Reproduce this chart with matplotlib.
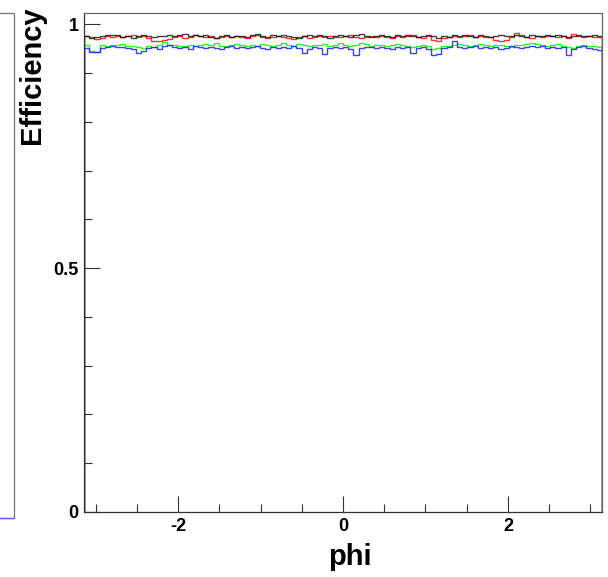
import numpy as np
import matplotlib
matplotlib.use('Agg')
import matplotlib.pyplot as plt
from matplotlib.ticker import MultipleLocator, FuncFormatter
from matplotlib.patches import Rectangle
from matplotlib.lines import Line2D

# efficiency vs phi, 100 bins from -pi to pi
n_bins = 100
eff_black = [0.976, 0.972, 0.973, 0.975, 0.977, 0.977, 0.977, 0.973, 0.975, 0.972,
             0.976, 0.977, 0.976, 0.973, 0.975, 0.976, 0.978, 0.975, 0.977, 0.979,
             0.975, 0.977, 0.976, 0.978, 0.974, 0.972, 0.975, 0.977, 0.974, 0.976,
             0.975, 0.973, 0.977, 0.979, 0.976, 0.974, 0.977, 0.975, 0.978, 0.976,
             0.974, 0.972, 0.975, 0.977, 0.976, 0.978, 0.975, 0.972, 0.975, 0.977,
             0.976, 0.974, 0.977, 0.979, 0.976, 0.973, 0.975, 0.977, 0.976, 0.974,
             0.977, 0.975, 0.978, 0.976, 0.973, 0.976, 0.977, 0.975, 0.972, 0.976,
             0.974, 0.977, 0.975, 0.978, 0.976, 0.974, 0.977, 0.975, 0.973, 0.976,
             0.977, 0.975, 0.976, 0.978, 0.976, 0.974, 0.977, 0.975, 0.976, 0.977,
             0.975, 0.977, 0.976, 0.973, 0.975, 0.977, 0.976, 0.975, 0.977, 0.976]
eff_red = [0.976, 0.974, 0.970, 0.972, 0.975, 0.974, 0.976, 0.973, 0.975, 0.977,
           0.973, 0.975, 0.972, 0.966, 0.965, 0.967, 0.970, 0.973, 0.975, 0.971,
           0.974, 0.977, 0.975, 0.973, 0.975, 0.971, 0.973, 0.975, 0.973, 0.976,
           0.974, 0.971, 0.975, 0.977, 0.974, 0.972, 0.974, 0.976, 0.974, 0.972,
           0.969, 0.973, 0.975, 0.972, 0.974, 0.976, 0.973, 0.975, 0.974, 0.973,
           0.975, 0.977, 0.974, 0.971, 0.973, 0.975, 0.973, 0.976, 0.974, 0.972,
           0.975, 0.973, 0.975, 0.977, 0.974, 0.972, 0.975, 0.967, 0.966, 0.971,
           0.974, 0.976, 0.973, 0.975, 0.977, 0.973, 0.975, 0.973, 0.974, 0.967,
           0.966, 0.968, 0.974, 0.981, 0.977, 0.974, 0.971, 0.975, 0.973, 0.975,
           0.976, 0.973, 0.975, 0.972, 0.980, 0.976, 0.974, 0.975, 0.973, 0.973]
eff_green = [0.958, 0.945, 0.943, 0.957, 0.956, 0.958, 0.957, 0.959, 0.956, 0.955,
             0.953, 0.952, 0.955, 0.954, 0.957, 0.963, 0.958, 0.957, 0.956, 0.955,
             0.957, 0.955, 0.958, 0.960, 0.958, 0.962, 0.956, 0.955, 0.957, 0.959,
             0.957, 0.955, 0.958, 0.956, 0.959, 0.957, 0.955, 0.958, 0.961, 0.957,
             0.956, 0.959, 0.957, 0.955, 0.957, 0.958, 0.959, 0.956, 0.958, 0.961,
             0.957, 0.955, 0.958, 0.962, 0.960, 0.956, 0.958, 0.957, 0.955, 0.958,
             0.960, 0.957, 0.955, 0.953, 0.956, 0.958, 0.955, 0.950, 0.951, 0.955,
             0.956, 0.958, 0.960, 0.957, 0.955, 0.957, 0.959, 0.958, 0.956, 0.958,
             0.957, 0.955, 0.953, 0.957, 0.958, 0.960, 0.962, 0.959, 0.957, 0.955,
             0.957, 0.959, 0.956, 0.953, 0.951, 0.955, 0.957, 0.956, 0.955, 0.953]
eff_blue = [0.952, 0.944, 0.943, 0.952, 0.954, 0.955, 0.953, 0.954, 0.951, 0.949,
            0.940, 0.946, 0.951, 0.953, 0.950, 0.955, 0.957, 0.954, 0.951, 0.953,
            0.950, 0.955, 0.953, 0.951, 0.954, 0.952, 0.950, 0.953, 0.955, 0.952,
            0.954, 0.951, 0.953, 0.955, 0.952, 0.950, 0.953, 0.951, 0.954, 0.952,
            0.955, 0.952, 0.941, 0.950, 0.953, 0.951, 0.938, 0.952, 0.954, 0.951,
            0.953, 0.950, 0.937, 0.952, 0.954, 0.953, 0.951, 0.954, 0.952, 0.950,
            0.953, 0.952, 0.954, 0.942, 0.951, 0.953, 0.950, 0.937, 0.939, 0.951,
            0.953, 0.966, 0.953, 0.951, 0.953, 0.955, 0.952, 0.954, 0.951, 0.953,
            0.950, 0.952, 0.955, 0.953, 0.951, 0.954, 0.956, 0.953, 0.955, 0.952,
            0.954, 0.951, 0.953, 0.936, 0.950, 0.953, 0.955, 0.952, 0.949, 0.947]

plt.rcParams['font.family'] = ['Liberation Sans', 'DejaVu Sans']

fig = plt.figure(figsize=(6.08, 5.77), dpi=100)
ax = fig.add_axes([84 / 608, 1 - 512 / 577, 518 / 608, 499 / 577])

edges = np.linspace(-np.pi, np.pi, n_bins + 1)
ax.stairs(eff_green, edges, color='#00ff00', lw=1.0, alpha=0.85)
ax.stairs(eff_blue, edges, color='#0000ff', lw=1.0, alpha=0.75)
ax.stairs(eff_red, edges, color='#ff0000', lw=1.0, alpha=0.8)
ax.stairs(eff_black, edges, color='#000000', lw=1.0, alpha=0.75)

ax.set_xlim(-np.pi, np.pi)
ax.set_ylim(0, 1.023)

ax.xaxis.set_major_locator(MultipleLocator(2))
ax.xaxis.set_minor_locator(MultipleLocator(0.5))
ax.yaxis.set_major_locator(MultipleLocator(0.5))
ax.yaxis.set_minor_locator(MultipleLocator(0.1))
ax.yaxis.set_major_formatter(FuncFormatter(lambda v, p: '%g' % v))
ax.xaxis.set_major_formatter(FuncFormatter(lambda v, p: '%g' % v))

ax.tick_params(which='both', direction='in', top=False, right=False,
               color='#333333', width=0.8)
ax.tick_params(which='major', length=11.5, labelsize=13, pad=4)
ax.tick_params(which='minor', length=6)
for lab in ax.get_xticklabels() + ax.get_yticklabels():
    lab.set_fontweight('bold')

for s in ['left', 'bottom']:
    ax.spines[s].set_color('#333333')
for s in ['top', 'right']:
    ax.spines[s].set_color('#666666')
for s in ax.spines.values():
    s.set_linewidth(0.9)

fig.text(32 / 608, 1 - 75 / 577, 'Efficiency', rotation=90, fontsize=21,
         fontweight='bold', ha='center', va='center')
fig.text(350 / 608, 1 - 557 / 577, 'phi', fontsize=21, fontweight='bold',
         ha='center', va='center')

# partial box on the far left (neighbouring pad)
fig.patches.append(Rectangle((-0.05, 1 - 518 / 577), 0.05 + 14 / 608, 505 / 577,
                             transform=fig.transFigure, fill=False,
                             edgecolor='#777777', lw=0.9))
fig.lines.append(Line2D([0, 14 / 608], [1 - 518 / 577, 1 - 518 / 577],
                        transform=fig.transFigure, color='#6060ff', lw=1.0))

fig.savefig('out.png', dpi=100)
